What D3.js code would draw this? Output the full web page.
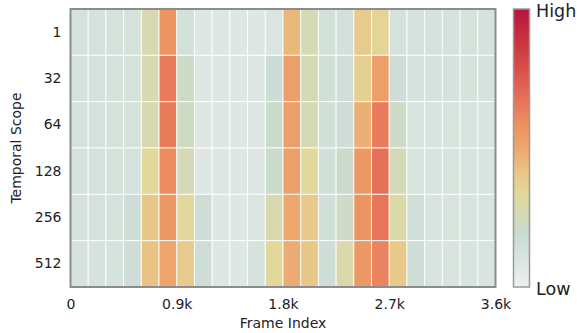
<!DOCTYPE html>
<html>
<head>
<meta charset="utf-8">
<script src="https://cdn.jsdelivr.net/npm/d3@7"></script>
<style>
  body { margin: 0; background: #fff; }
  text { font-family: "DejaVu Sans", sans-serif; fill: #222; }
</style>
</head>
<body>
<div id="chart"></div>
<script>
// temporal scopes (rows) and frame bins (columns, 150 frames each)
const scopes = ['1', '32', '64', '128', '256', '512'];
const binSize = 150;
const xTicks = [0, 900, 1800, 2700, 3600];
const xTickLabels = ['0', '0.9k', '1.8k', '2.7k', '3.6k'];

// normalised attention per scope, 24 bins each
const row1   = [0.13, 0.13, 0.13, 0.13, 0.28, 0.57, 0.14, 0.08, 0.08, 0.08, 0.08, 0.10, 0.45, 0.27, 0.14, 0.14, 0.39, 0.35, 0.13, 0.12, 0.12, 0.12, 0.12, 0.12];
const row32  = [0.13, 0.13, 0.13, 0.13, 0.28, 0.645, 0.22, 0.08, 0.08, 0.08, 0.08, 0.17, 0.53, 0.27, 0.15, 0.15, 0.37, 0.53, 0.16, 0.12, 0.12, 0.12, 0.12, 0.12];
const row64  = [0.13, 0.13, 0.13, 0.13, 0.28, 0.64, 0.23, 0.08, 0.08, 0.08, 0.08, 0.21, 0.53, 0.27, 0.15, 0.16, 0.475, 0.645, 0.22, 0.11, 0.11, 0.11, 0.11, 0.11];
const row128 = [0.13, 0.13, 0.13, 0.13, 0.33, 0.60, 0.26, 0.08, 0.08, 0.08, 0.08, 0.21, 0.53, 0.33, 0.15, 0.21, 0.55, 0.675, 0.26, 0.11, 0.11, 0.11, 0.11, 0.11];
const row256 = [0.13, 0.13, 0.13, 0.16, 0.405, 0.55, 0.33, 0.16, 0.08, 0.08, 0.10, 0.28, 0.50, 0.40, 0.15, 0.22, 0.57, 0.665, 0.30, 0.15, 0.11, 0.11, 0.11, 0.11];
const row512 = [0.12, 0.12, 0.12, 0.16, 0.42, 0.51, 0.39, 0.16, 0.08, 0.08, 0.12, 0.33, 0.485, 0.405, 0.16, 0.29, 0.55, 0.62, 0.40, 0.16, 0.11, 0.11, 0.11, 0.11];
const rows = [row1, row32, row64, row128, row256, row512];

// colormap stops
const cmapStops = [0, 0.10, 0.19, 0.26, 0.33, 0.405, 0.495, 0.585, 0.67, 0.78, 0.89, 1];
const cmapColors = ['#eef1ee', '#dae5e0', '#c8dbd2', '#d4dab8', '#e2d89c', '#e8c888', '#eda870', '#ed9060', '#e6735a', '#d9504a', '#c8323f', '#b5163c'];

const W = 577, H = 333;
const plot = { left: 70.5, right: 495.5, top: 9, bottom: 287 };

const svg = d3.select('#chart').append('svg')
  .attr('width', W)
  .attr('height', H);

const color = d3.scaleLinear()
  .domain(cmapStops)
  .range(cmapColors)
  .interpolate(d3.interpolateRgb)
  .clamp(true);

const x = d3.scaleLinear()
  .domain([0, 3600])
  .range([plot.left, plot.right]);

const y = d3.scaleBand()
  .domain(scopes)
  .range([plot.top, plot.bottom]);

// cells
const cells = [];
rows.forEach((vals, r) => {
  vals.forEach((v, c) => cells.push({ scope: scopes[r], start: c * binSize, value: v }));
});

svg.append('g')
  .selectAll('rect')
  .data(cells)
  .join('rect')
  .attr('x', d => x(d.start))
  .attr('y', d => y(d.scope))
  .attr('width', d => x(d.start + binSize) - x(d.start))
  .attr('height', y.bandwidth())
  .attr('fill', d => color(d.value))
  .attr('stroke', '#ffffff')
  .attr('stroke-opacity', 0.85)
  .attr('stroke-width', 1);

// frame
svg.append('rect')
  .attr('x', plot.left)
  .attr('y', plot.top)
  .attr('width', plot.right - plot.left)
  .attr('height', plot.bottom - plot.top)
  .attr('fill', 'none')
  .attr('stroke', '#8c8c8c')
  .attr('stroke-width', 2);

// x axis (labels only)
const xAxis = svg.append('g')
  .attr('transform', 'translate(0,' + plot.bottom + ')')
  .call(d3.axisBottom(x).tickValues(xTicks).tickFormat((d, i) => xTickLabels[i]).tickSize(0).tickPadding(12));
xAxis.select('.domain').remove();
xAxis.selectAll('text')
  .style('font-family', '"DejaVu Sans", sans-serif')
  .style('font-size', '14px')
  .attr('fill', '#222');

// y axis (labels only)
const yAxis = svg.append('g')
  .attr('transform', 'translate(' + plot.left + ',0)')
  .call(d3.axisLeft(y).tickSize(0).tickPadding(9));
yAxis.select('.domain').remove();
yAxis.selectAll('text')
  .style('font-family', '"DejaVu Sans", sans-serif')
  .style('font-size', '14px')
  .attr('fill', '#222');

// axis titles
svg.append('text')
  .attr('x', (plot.left + plot.right) / 2)
  .attr('y', 328)
  .style('text-anchor', 'middle')
  .style('font-size', '14px')
  .text('Frame Index');

svg.append('text')
  .attr('transform', 'translate(21,148) rotate(-90)')
  .style('text-anchor', 'middle')
  .style('font-size', '14px')
  .text('Temporal Scope');

// colour bar
const cb = { x: 513.5, w: 16, top: 9, bottom: 287 };
const defs = svg.append('defs');
const grad = defs.append('linearGradient')
  .attr('id', 'cbar')
  .attr('x1', 0).attr('y1', 1)
  .attr('x2', 0).attr('y2', 0);
grad.selectAll('stop')
  .data(cmapStops)
  .join('stop')
  .attr('offset', d => d)
  .attr('stop-color', (d, i) => cmapColors[i]);

svg.append('rect')
  .attr('x', cb.x)
  .attr('y', cb.top)
  .attr('width', cb.w)
  .attr('height', cb.bottom - cb.top)
  .attr('fill', 'url(#cbar)')
  .attr('stroke', '#9a9a9a')
  .attr('stroke-width', 1.5);

svg.append('text')
  .attr('x', 536)
  .attr('y', 17)
  .style('font-size', '17.5px')
  .text('High');

svg.append('text')
  .attr('x', 536)
  .attr('y', 295)
  .style('font-size', '17.5px')
  .text('Low');
</script>
</body>
</html>
